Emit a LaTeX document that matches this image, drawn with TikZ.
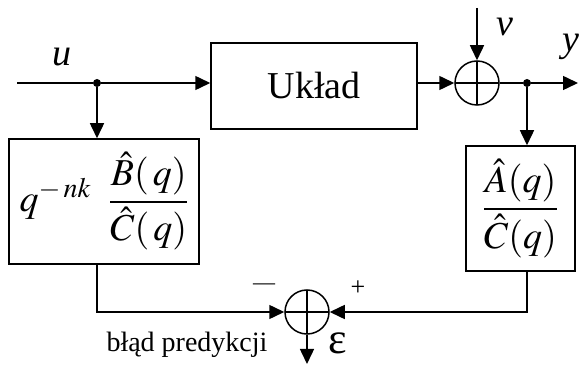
\documentclass[tikz,border=0pt]{standalone}
\usepackage{amsmath}
\usepackage{mathptmx}
\usepackage[no-math]{fontspec}
\setmainfont{Liberation Serif}
\usetikzlibrary{arrows.meta}

\tikzset{
  blok/.style={draw, line width=1.5pt, inner sep=0pt, font=\fontsize{38}{40}\selectfont},
  sumator/.style={circle, draw, line width=1.5pt, minimum size=44pt, inner sep=0pt,
    path picture={\draw[line width=1.5pt] (path picture bounding box.north) -- (path picture bounding box.south)
      (path picture bounding box.west) -- (path picture bounding box.east);}},
  kropka/.style={circle, fill, inner sep=0pt, minimum size=8pt},
  sygnal/.style={line width=1.5pt, -{Triangle[length=15pt,width=14pt]}},
  linia/.style={line width=1.5pt},
  etykieta/.style={inner sep=0pt, font=\fontsize{38}{40}\selectfont},
}

\begin{document}
\begin{tikzpicture}[x=1pt,y=-1pt]
  \useasboundingbox (0,0) rectangle (579,366);
  % bloki
  \node[blok, minimum width=206pt, minimum height=86pt] (uklad) at (314,86) {Układ};
  \node[blok, minimum width=190pt, minimum height=125pt] (bblok) at (104,201.5)
    {$q^{-\,nk}\hspace{18pt}\dfrac{\hat{B}(\,q)}{\hat{C}(\,q)}$};
  \node[blok, minimum width=109pt, minimum height=125pt] (ablok) at (520.5,208.5)
    {$\dfrac{\hat{A}(q)}{\hat{C}(q)}$};
  \node[sumator] (sum1) at (477,83) {};
  \node[sumator] (sum2) at (307,312) {};
  \node[kropka] (w1) at (97,83) {};
  \node[kropka] (w2) at (527,83) {};
  \coordinate (wej) at (17,83);
  \coordinate (wyj) at (578,83);
  \coordinate (zakl) at (477,8);
  \coordinate (blad) at (307,364);
  % polaczenia
  \draw[linia] (wej) -- (w1);
  \draw[sygnal] (w1) -- (w1 -| uklad.west);
  \draw[sygnal] (w1) -- (w1 |- bblok.north);
  \draw[sygnal] (uklad.east |- sum1) -- (sum1);
  \draw[sygnal] (zakl) -- (sum1);
  \draw[linia] (sum1) -- (w2);
  \draw[sygnal] (w2) -- (wyj);
  \draw[sygnal] (w2) -- (w2 |- ablok.north);
  \draw[sygnal] (w1 |- bblok.south) |- (sum2);
  \draw[sygnal] (w2 |- ablok.south) |- (sum2);
  \draw[sygnal] (sum2) -- (blad);
  % opisy
  \node[etykieta] (u) at (62,57) {\itshape u};
  \node[etykieta] (v) at (505,27) {\itshape v};
  \node[etykieta] (y) at (571,47) {\itshape y};
  \node[etykieta, font=\fontsize{44}{46}\selectfont] (eps) at (338,343) {ε};
  \node[etykieta, font=\fontsize{22}{24}\selectfont] (minus) at (264,287) {—};
  \node[etykieta, font=\fontsize{26}{28}\selectfont] (plus) at (358,288) {+};
  \node[etykieta, font=\fontsize{28}{30}\selectfont] (opis) at (187,345) {błąd predykcji};
\end{tikzpicture}
\end{document}
